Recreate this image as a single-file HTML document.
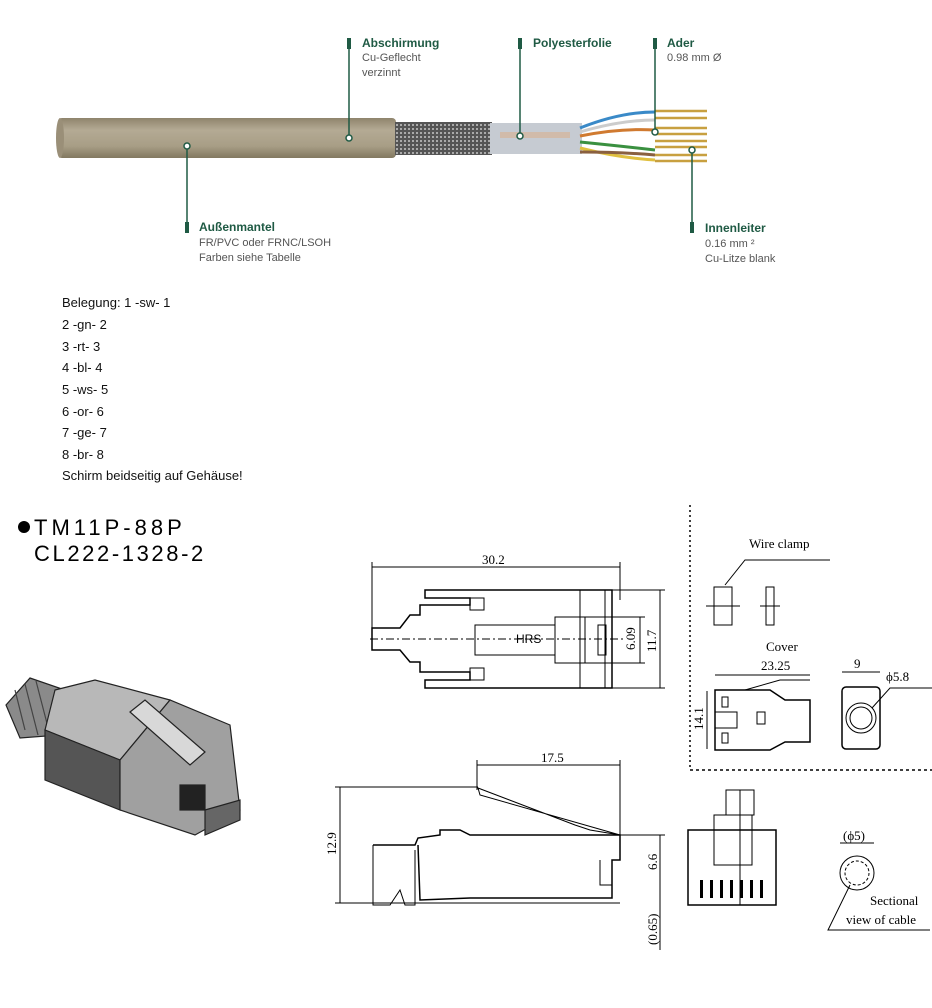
<!DOCTYPE html>
<html><head><meta charset="utf-8"><style>
html,body{margin:0;padding:0;background:#fff;width:932px;height:1008px;overflow:hidden}
.t{position:absolute;font-family:"Liberation Sans",Arial,sans-serif;font-size:13px;color:#111;left:62px}
</style></head><body>
<svg width="932" height="1008" style="position:absolute;left:0;top:0" xmlns="http://www.w3.org/2000/svg">
<defs>
<linearGradient id="cab" x1="0" y1="0" x2="0" y2="1"><stop offset="0" stop-color="#8f846c"/><stop offset=".3" stop-color="#b4aa94"/><stop offset=".7" stop-color="#a89e86"/><stop offset="1" stop-color="#827860"/></linearGradient>
<pattern id="br" width="4" height="4" patternUnits="userSpaceOnUse"><rect width="4" height="4" fill="#555"/><rect width="2" height="2" fill="#aaa"/></pattern>
</defs>
<!-- cable -->
<rect x="58" y="118" width="338" height="40" rx="4" fill="url(#cab)"/>
<ellipse cx="60" cy="138" rx="4" ry="20" fill="#9a8f78"/>
<rect x="395" y="122" width="97" height="33" fill="url(#br)"/>
<rect x="490" y="123" width="92" height="31" fill="#c6cbd2"/>
<rect x="500" y="132" width="70" height="6" fill="#d9b090" opacity=".6"/>
<g stroke-width="3" fill="none">
<path d="M580 128 Q620 112 655 112" stroke="#3a8ac8"/>
<path d="M580 136 Q620 128 655 130" stroke="#d07a30"/>
<path d="M580 142 Q620 146 655 150" stroke="#3a9040"/>
<path d="M580 148 Q620 158 655 160" stroke="#e0c040"/>
<path d="M580 152 Q620 152 655 155" stroke="#8a6040"/>
<path d="M580 132 Q620 120 655 120" stroke="#ccc"/>
</g>
<g stroke="#c8a040" stroke-width="2.5">
<line x1="655" y1="111" x2="707" y2="111"/><line x1="655" y1="118" x2="707" y2="118"/>
<line x1="655" y1="128" x2="707" y2="128"/><line x1="655" y1="134" x2="707" y2="134"/>
<line x1="655" y1="141" x2="707" y2="141"/><line x1="655" y1="147" x2="707" y2="147"/>
<line x1="655" y1="155" x2="707" y2="155"/><line x1="655" y1="161" x2="707" y2="161"/>
</g>
<!-- leaders -->
<g stroke="#1f5a44" stroke-width="1.5" fill="#fff">
<line x1="349" y1="40" x2="349" y2="136"/><line x1="520" y1="40" x2="520" y2="133"/>
<line x1="655" y1="40" x2="655" y2="130"/><line x1="187" y1="148" x2="187" y2="230"/>
<line x1="692" y1="152" x2="692" y2="232"/>
<circle cx="349" cy="138" r="3"/><circle cx="520" cy="136" r="3"/><circle cx="655" cy="132" r="3"/>
<circle cx="187" cy="146" r="3"/><circle cx="692" cy="150" r="3"/>
</g>
<g fill="#1f5a44"><rect x="347" y="38" width="4" height="11"/><rect x="518" y="38" width="4" height="11"/><rect x="653" y="38" width="4" height="11"/><rect x="185" y="222" width="4" height="11"/><rect x="690" y="222" width="4" height="11"/></g>
<g font-family="Liberation Sans Narrow,Liberation Sans,sans-serif" font-size="11" fill="#555">
<text x="362" y="47" font-weight="bold" fill="#1f5a44" font-size="12">Abschirmung</text>
<text x="362" y="61">Cu-Geflecht</text><text x="362" y="76">verzinnt</text>
<text x="533" y="47" font-weight="bold" fill="#1f5a44" font-size="12">Polyesterfolie</text>
<text x="667" y="47" font-weight="bold" fill="#1f5a44" font-size="12">Ader</text>
<text x="667" y="61">0.98 mm Ø</text>
<text x="199" y="231" font-weight="bold" fill="#1f5a44" font-size="12">Außenmantel</text>
<text x="199" y="246">FR/PVC oder FRNC/LSOH</text><text x="199" y="261">Farben siehe Tabelle</text>
<text x="705" y="232" font-weight="bold" fill="#1f5a44" font-size="12">Innenleiter</text>
<text x="705" y="247">0.16 mm ²</text><text x="705" y="262">Cu-Litze blank</text>
</g>
<!-- title -->
<circle cx="24" cy="527" r="6" fill="#000"/>
<text x="34" y="535" font-family="Liberation Sans,sans-serif" font-size="22" letter-spacing="4">TM11P-88P</text>
<text x="34" y="561" font-family="Liberation Sans,sans-serif" font-size="22" letter-spacing="2.6">CL222-1328-2</text>
<!-- photo -->
<g stroke="#222" stroke-width="1.2">
<path d="M6 705 L30 678 L65 690 L60 735 L20 738 Z" fill="#8a8a8a"/>
<g stroke="#444"><line x1="15" y1="690" x2="25" y2="730"/><line x1="25" y1="684" x2="38" y2="735"/><line x1="36" y1="681" x2="50" y2="735"/></g>
<path d="M55 690 L95 680 L170 700 L120 760 L45 730 Z" fill="#b8b8b8"/>
<path d="M45 730 L120 760 L120 810 L45 780 Z" fill="#555"/>
<path d="M120 760 L170 700 L230 725 L240 810 L195 835 L120 810 Z" fill="#a0a0a0"/>
<path d="M130 712 L145 700 L205 752 L190 765 Z" fill="#d8d8d8"/>
<rect x="180" y="785" width="25" height="25" fill="#222"/>
<path d="M205 810 L240 800 L240 820 L205 835 Z" fill="#666"/>
</g>
<!-- drawings -->
<g stroke="#000" stroke-width="1" fill="none" font-family="Liberation Serif,serif">
<line x1="372" y1="567" x2="620" y2="567"/><line x1="372" y1="562" x2="372" y2="630"/><line x1="620" y1="562" x2="620" y2="600"/>
<path d="M372 628 L400 628 L410 615 L420 615 L420 605 L470 605 L470 598 L425 598 L425 590 L612 590 L612 688 L425 688 L425 680 L470 680 L470 672 L420 672 L420 662 L410 662 L400 650 L372 650 Z" stroke-width="1.5"/>
<rect x="475" y="625" width="80" height="30"/><rect x="555" y="617" width="30" height="46"/><rect x="585" y="617" width="27" height="46"/>
<rect x="598" y="625" width="8" height="30"/>
<line x1="580" y1="590" x2="580" y2="688"/><line x1="605" y1="590" x2="605" y2="688"/>
<rect x="470" y="598" width="14" height="12"/><rect x="470" y="668" width="14" height="12"/>
<line x1="370" y1="639" x2="625" y2="639" stroke-dasharray="8 3 2 3"/>
<line x1="612" y1="590" x2="665" y2="590"/><line x1="612" y1="688" x2="665" y2="688"/>
<line x1="660" y1="590" x2="660" y2="688"/><line x1="612" y1="617" x2="645" y2="617"/><line x1="612" y1="663" x2="645" y2="663"/><line x1="640" y1="617" x2="640" y2="663"/>
<line x1="477" y1="765" x2="620" y2="765"/><line x1="477" y1="760" x2="477" y2="790"/><line x1="620" y1="760" x2="620" y2="840"/>
<line x1="340" y1="787" x2="340" y2="903"/><line x1="335" y1="787" x2="478" y2="787"/>
<path d="M373 845 L415 845 L418 838 L440 835 L440 830 L460 830 L470 835 L530 835 L620 835 L620 860 L612 860 L612 898 L470 898 L420 900 L418 845" stroke-width="1.5"/>
<path d="M373 845 L373 905 L390 905 L400 890 L405 905 L415 905 L415 850"/>
<path d="M478 788 L575 825 L590 830 L620 835 L480 795 Z"/>
<path d="M600 860 L600 885 L612 885"/>
<line x1="335" y1="903" x2="620" y2="903"/>
<line x1="620" y1="835" x2="665" y2="835"/><line x1="660" y1="835" x2="660" y2="950"/>
<rect x="688" y="830" width="88" height="75" stroke-width="1.5"/>
<rect x="714" y="815" width="38" height="50"/>
<rect x="726" y="790" width="28" height="25"/>
<line x1="740" y1="790" x2="740" y2="905"/>
<line x1="690" y1="505" x2="690" y2="770" stroke-dasharray="2 3" stroke-width="1.5"/>
<line x1="690" y1="770" x2="932" y2="770" stroke-dasharray="3 3" stroke-width="1.5"/>
<rect x="714" y="587" width="18" height="38"/><rect x="766" y="587" width="8" height="38"/>
<line x1="706" y1="606" x2="740" y2="606"/><line x1="760" y1="606" x2="780" y2="606"/>
<path d="M830 560 L745 560 L725 585"/>
<line x1="715" y1="675" x2="810" y2="675"/>
<path d="M715 690 L770 690 L785 700 L810 700 L810 742 L785 742 L770 750 L715 750 Z" stroke-width="1.5"/>
<rect x="722" y="697" width="6" height="10"/><rect x="722" y="733" width="6" height="10"/>
<path d="M715 712 L737 712 L737 728 L715 728"/>
<rect x="757" y="712" width="8" height="12"/>
<line x1="707" y1="691" x2="707" y2="749"/>
<path d="M810 680 L780 680 L745 690"/>
<rect x="842" y="687" width="38" height="62" rx="4" stroke-width="1.5"/>
<circle cx="861" cy="718" r="15"/><circle cx="861" cy="718" r="11"/>
<line x1="842" y1="672" x2="880" y2="672"/>
<path d="M872 708 L890 688 L932 688"/>
<circle cx="857" cy="873" r="17"/><line x1="840" y1="843" x2="874" y2="843"/>
<circle cx="857" cy="873" r="12" stroke-dasharray="3 2"/>
<path d="M850 885 L828 930 L930 930"/>
</g>
<g font-family="Liberation Serif,serif" font-size="13" fill="#000">
<text x="482" y="564">30.2</text>
<text x="541" y="762">17.5</text>
<text x="635" y="650" transform="rotate(-90 635 650)">6.09</text>
<text x="656" y="652" transform="rotate(-90 656 652)">11.7</text>
<text x="336" y="855" transform="rotate(-90 336 855)">12.9</text>
<text x="657" y="870" transform="rotate(-90 657 870)">6.6</text>
<text x="657" y="945" transform="rotate(-90 657 945)">(0.65)</text>
<text x="749" y="548">Wire clamp</text>
<text x="766" y="651">Cover</text>
<text x="761" y="670">23.25</text>
<text x="854" y="668">9</text>
<text x="886" y="681">ϕ5.8</text>
<text x="703" y="730" transform="rotate(-90 703 730)">14.1</text>
<text x="843" y="840">(ϕ5)</text>
<text x="870" y="905">Sectional</text>
<text x="846" y="924">view of cable</text>
<text x="516" y="643" font-family="Liberation Sans,sans-serif" font-size="12">HRS</text>
</g>
<g fill="#000"><rect x="700" y="880" width="3" height="18"/><rect x="710" y="880" width="3" height="18"/><rect x="720" y="880" width="3" height="18"/><rect x="730" y="880" width="3" height="18"/><rect x="740" y="880" width="3" height="18"/><rect x="750" y="880" width="3" height="18"/><rect x="760" y="880" width="3" height="18"/></g>
</svg>
<div class="t" style="top:295px">Belegung: 1 -sw- 1</div>
<div class="t" style="top:317px">2 -gn- 2</div>
<div class="t" style="top:339px">3 -rt- 3</div>
<div class="t" style="top:360px">4 -bl- 4</div>
<div class="t" style="top:382px">5 -ws- 5</div>
<div class="t" style="top:404px">6 -or- 6</div>
<div class="t" style="top:425px">7 -ge- 7</div>
<div class="t" style="top:447px">8 -br- 8</div>
<div class="t" style="top:468px">Schirm beidseitig auf Gehäuse!</div>
</body></html>
